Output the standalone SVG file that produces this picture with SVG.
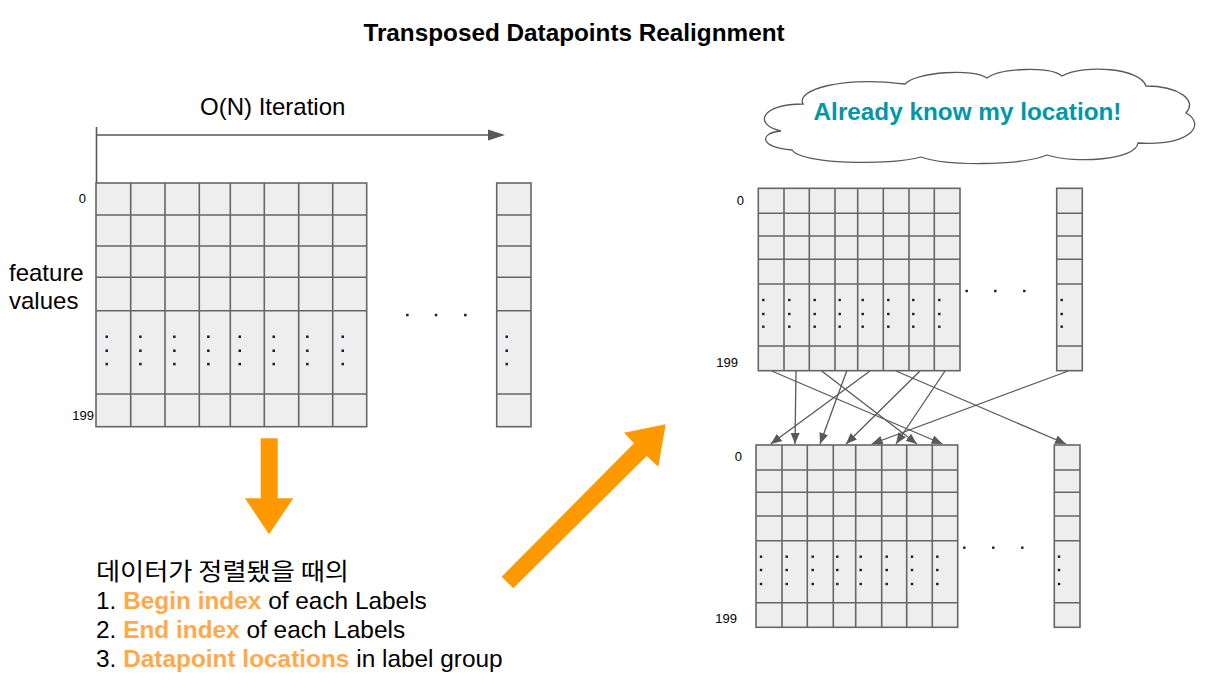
<svg xmlns="http://www.w3.org/2000/svg" width="1207" height="680" viewBox="0 0 1207 680">
<defs>
<style>
.cell{fill:#eeeeee;stroke:#666666;stroke-width:1.6}
.gl{fill:none;stroke:#666666;stroke-width:1.6}
.dot{fill:#1a1a33}
.lbl{font-family:"Liberation Sans",Arial,sans-serif;font-size:13px;fill:#000}
.txt{font-family:"Liberation Sans",Arial,sans-serif;font-size:24px;fill:#000}
.ntx{font-family:"Liberation Sans",Arial,sans-serif;font-size:24.4px;fill:#000}
.or{font-weight:bold;fill:#ffa94d}
.conn{fill:none;stroke:#595959;stroke-width:1.3;marker-end:url(#ah)}
</style>
<marker id="ah" markerUnits="userSpaceOnUse" markerWidth="11" markerHeight="9" refX="11" refY="4.5" orient="auto">
<path d="M0,0 L11,4.5 L0,9 Z" fill="#595959"/>
</marker>
</defs>
<rect width="1207" height="680" fill="#ffffff"/>

<text x="574" y="41" text-anchor="middle" style="font-family:'Liberation Sans',Arial,sans-serif;font-size:24.3px;font-weight:bold">Transposed Datapoints Realignment</text>

<g id="iteration">
<text class="txt" x="200" y="115">O(N) Iteration</text>
<path d="M96.5,127 V183 M96.5,135 H490" fill="none" stroke="#595959" stroke-width="1.6"/>
<polygon points="488,129.5 505,135 488,140.5" fill="#595959"/>
</g>

<g id="left-labels">
<text class="lbl" x="86" y="202.5" text-anchor="end">0</text>
<text class="lbl" x="94" y="419.5" text-anchor="end">199</text>
<text class="txt" x="9" y="281">feature</text>
<text class="txt" x="9" y="309">values</text>
</g>

<g id="left-grid">
<rect class="cell" x="96" y="183" width="270.7" height="243.7"/>
<path class="gl" d="M130.7,183V426.7 M165,183V426.7 M199.3,183V426.7 M230.3,183V426.7 M264.3,183V426.7 M298.7,183V426.7 M332.7,183V426.7 M96,215H366.7 M96,246H366.7 M96,277.3H366.7 M96,310.7H366.7 M96,394H366.7"/>
<g class="dot">
<rect x="105.5" y="335.5" width="2.5" height="2.5"/><rect x="105.5" y="349.5" width="2.5" height="2.5"/><rect x="105.5" y="362.8" width="2.5" height="2.5"/>
<rect x="139.1" y="335.5" width="2.5" height="2.5"/><rect x="139.1" y="349.5" width="2.5" height="2.5"/><rect x="139.1" y="362.8" width="2.5" height="2.5"/>
<rect x="173.1" y="335.5" width="2.5" height="2.5"/><rect x="173.1" y="349.5" width="2.5" height="2.5"/><rect x="173.1" y="362.8" width="2.5" height="2.5"/>
<rect x="207.1" y="335.5" width="2.5" height="2.5"/><rect x="207.1" y="349.5" width="2.5" height="2.5"/><rect x="207.1" y="362.8" width="2.5" height="2.5"/>
<rect x="238.5" y="335.5" width="2.5" height="2.5"/><rect x="238.5" y="349.5" width="2.5" height="2.5"/><rect x="238.5" y="362.8" width="2.5" height="2.5"/>
<rect x="272.5" y="335.5" width="2.5" height="2.5"/><rect x="272.5" y="349.5" width="2.5" height="2.5"/><rect x="272.5" y="362.8" width="2.5" height="2.5"/>
<rect x="306.1" y="335.5" width="2.5" height="2.5"/><rect x="306.1" y="349.5" width="2.5" height="2.5"/><rect x="306.1" y="362.8" width="2.5" height="2.5"/>
<rect x="341.5" y="335.5" width="2.5" height="2.5"/><rect x="341.5" y="349.5" width="2.5" height="2.5"/><rect x="341.5" y="362.8" width="2.5" height="2.5"/>
<rect x="406.1" y="313.8" width="2.5" height="2.5"/><rect x="434.8" y="313.8" width="2.5" height="2.5"/><rect x="464.1" y="313.8" width="2.5" height="2.5"/>
</g>
</g>

<g id="left-column">
<rect class="cell" x="496.7" y="183" width="34.3" height="243.7"/>
<path class="gl" d="M496.7,215H531 M496.7,246H531 M496.7,277.3H531 M496.7,310.7H531 M496.7,394H531"/>
<g class="dot"><rect x="505.5" y="335.5" width="2.5" height="2.5"/><rect x="505.5" y="349.5" width="2.5" height="2.5"/><rect x="505.5" y="362.8" width="2.5" height="2.5"/></g>
</g>

<g id="down-arrow">
<polygon points="260.7,438.3 277.7,438.3 277.7,498.3 293.3,498.3 269,534.3 245,498.3 260.7,498.3" fill="#ff9900"/>
</g>

<g id="diag-arrow">
<polygon points="501.7,576.7 634,443.3 624,432.7 665.7,424.3 658.3,466.7 646.7,456 513.3,588.3" fill="#ff9900"/>
</g>

<g id="notes">
<text x="96" y="580" textLength="253" lengthAdjust="spacingAndGlyphs" style="font-family:'Noto Sans CJK KR','Liberation Sans',sans-serif;font-size:24px">데이터가 정렬됐을 때의</text>
<text class="ntx" x="96" y="609">1. <tspan class="or">Begin index</tspan> of each Labels</text>
<text class="ntx" x="96" y="638">2. <tspan class="or">End index</tspan> of each Labels</text>
<text class="ntx" x="96" y="667">3. <tspan class="or">Datapoint locations</tspan> in label group</text>
</g>

<g id="cloud">
<path d="M803,104 C796,90 840,76 905,84 C915,72 975,68 987,78 C1000,68 1050,66 1062,76 C1085,64 1140,68 1146,86 C1178,86 1198,100 1186,113 C1206,124 1192,146 1138,143 C1136,160 1075,164 1047,155 C1020,166 945,166 921,157 C890,166 800,164 792,150 C760,148 758,133 781,131 C752,124 762,104 803,104 Z" fill="#ffffff" stroke="#595959" stroke-width="1.3"/>
<text x="967.5" y="120" text-anchor="middle" style="font-family:'Liberation Sans',Arial,sans-serif;font-size:24.3px;font-weight:bold;fill:#0097a7">Already know my location!</text>
</g>

<g id="top-labels">
<text class="lbl" x="744" y="205" text-anchor="end">0</text>
<text class="lbl" x="738" y="367" text-anchor="end">199</text>
</g>

<g id="top-grid">
<rect class="cell" x="758.3" y="188.3" width="201.7" height="182.4"/>
<path class="gl" d="M784,188.3V370.7 M809.3,188.3V370.7 M835,188.3V370.7 M857.7,188.3V370.7 M883.3,188.3V370.7 M909,188.3V370.7 M934.3,188.3V370.7 M758.3,213.3H960 M758.3,236H960 M758.3,259.3H960 M758.3,284H960 M758.3,346H960"/>
<g class="dot">
<rect x="762.1" y="298.8" width="2.4" height="2.4"/><rect x="762.1" y="312.8" width="2.4" height="2.4"/><rect x="762.1" y="325.5" width="2.4" height="2.4"/>
<rect x="788.1" y="298.8" width="2.4" height="2.4"/><rect x="788.1" y="312.8" width="2.4" height="2.4"/><rect x="788.1" y="325.5" width="2.4" height="2.4"/>
<rect x="813.5" y="298.8" width="2.4" height="2.4"/><rect x="813.5" y="312.8" width="2.4" height="2.4"/><rect x="813.5" y="325.5" width="2.4" height="2.4"/>
<rect x="838.5" y="298.8" width="2.4" height="2.4"/><rect x="838.5" y="312.8" width="2.4" height="2.4"/><rect x="838.5" y="325.5" width="2.4" height="2.4"/>
<rect x="861.5" y="298.8" width="2.4" height="2.4"/><rect x="861.5" y="312.8" width="2.4" height="2.4"/><rect x="861.5" y="325.5" width="2.4" height="2.4"/>
<rect x="887.1" y="298.8" width="2.4" height="2.4"/><rect x="887.1" y="312.8" width="2.4" height="2.4"/><rect x="887.1" y="325.5" width="2.4" height="2.4"/>
<rect x="912.1" y="298.8" width="2.4" height="2.4"/><rect x="912.1" y="312.8" width="2.4" height="2.4"/><rect x="912.1" y="325.5" width="2.4" height="2.4"/>
<rect x="938.1" y="298.8" width="2.4" height="2.4"/><rect x="938.1" y="312.8" width="2.4" height="2.4"/><rect x="938.1" y="325.5" width="2.4" height="2.4"/>
<rect x="965.5" y="289.8" width="2.4" height="2.4"/><rect x="994.1" y="289.8" width="2.4" height="2.4"/><rect x="1023.1" y="289.8" width="2.4" height="2.4"/>
</g>
</g>

<g id="top-column">
<rect class="cell" x="1056.7" y="188.3" width="25.6" height="182.4"/>
<path class="gl" d="M1056.7,213.3H1082.3 M1056.7,236H1082.3 M1056.7,259.3H1082.3 M1056.7,284H1082.3 M1056.7,346H1082.3"/>
<g class="dot"><rect x="1060.5" y="298.8" width="2.4" height="2.4"/><rect x="1060.5" y="312.8" width="2.4" height="2.4"/><rect x="1060.5" y="325.5" width="2.4" height="2.4"/></g>
</g>

<g id="connectors">
<line class="conn" x1="771.7" y1="371" x2="942.5" y2="444"/>
<line class="conn" x1="796" y1="371" x2="795" y2="444"/>
<line class="conn" x1="821.7" y1="371" x2="917" y2="444"/>
<line class="conn" x1="846.7" y1="371" x2="820" y2="444"/>
<line class="conn" x1="870" y1="371" x2="770.7" y2="444"/>
<line class="conn" x1="896" y1="371" x2="1066" y2="444"/>
<line class="conn" x1="920" y1="371" x2="846" y2="444"/>
<line class="conn" x1="945" y1="371" x2="896" y2="444"/>
<line class="conn" x1="1068.3" y1="371" x2="871.7" y2="444"/>
</g>

<g id="bottom-labels">
<text class="lbl" x="742" y="461" text-anchor="end">0</text>
<text class="lbl" x="737" y="623" text-anchor="end">199</text>
</g>

<g id="bottom-grid">
<rect class="cell" x="756" y="445" width="201.7" height="182.3"/>
<path class="gl" d="M782,445V627.3 M807.3,445V627.3 M833.3,445V627.3 M855.7,445V627.3 M881.7,445V627.3 M906.7,445V627.3 M932.3,445V627.3 M756,470H957.7 M756,492.3H957.7 M756,516H957.7 M756,540.7H957.7 M756,602.7H957.7"/>
<g class="dot">
<rect x="759.8" y="555.5" width="2.4" height="2.4"/><rect x="759.8" y="568.8" width="2.4" height="2.4"/><rect x="759.8" y="582.8" width="2.4" height="2.4"/>
<rect x="785.5" y="555.5" width="2.4" height="2.4"/><rect x="785.5" y="568.8" width="2.4" height="2.4"/><rect x="785.5" y="582.8" width="2.4" height="2.4"/>
<rect x="811.5" y="555.5" width="2.4" height="2.4"/><rect x="811.5" y="568.8" width="2.4" height="2.4"/><rect x="811.5" y="582.8" width="2.4" height="2.4"/>
<rect x="836.1" y="555.5" width="2.4" height="2.4"/><rect x="836.1" y="568.8" width="2.4" height="2.4"/><rect x="836.1" y="582.8" width="2.4" height="2.4"/>
<rect x="859.5" y="555.5" width="2.4" height="2.4"/><rect x="859.5" y="568.8" width="2.4" height="2.4"/><rect x="859.5" y="582.8" width="2.4" height="2.4"/>
<rect x="885.5" y="555.5" width="2.4" height="2.4"/><rect x="885.5" y="568.8" width="2.4" height="2.4"/><rect x="885.5" y="582.8" width="2.4" height="2.4"/>
<rect x="910.8" y="555.5" width="2.4" height="2.4"/><rect x="910.8" y="568.8" width="2.4" height="2.4"/><rect x="910.8" y="582.8" width="2.4" height="2.4"/>
<rect x="936.1" y="555.5" width="2.4" height="2.4"/><rect x="936.1" y="568.8" width="2.4" height="2.4"/><rect x="936.1" y="582.8" width="2.4" height="2.4"/>
<rect x="963.1" y="546.5" width="2.4" height="2.4"/><rect x="992.1" y="546.5" width="2.4" height="2.4"/><rect x="1021.1" y="546.5" width="2.4" height="2.4"/>
</g>
</g>

<g id="bottom-column">
<rect class="cell" x="1054.3" y="445" width="25.7" height="182.3"/>
<path class="gl" d="M1054.3,470H1080 M1054.3,492.3H1080 M1054.3,516H1080 M1054.3,540.7H1080 M1054.3,602.7H1080"/>
<g class="dot"><rect x="1057.8" y="555.5" width="2.4" height="2.4"/><rect x="1057.8" y="568.8" width="2.4" height="2.4"/><rect x="1057.8" y="582.8" width="2.4" height="2.4"/></g>
</g>
</svg>
